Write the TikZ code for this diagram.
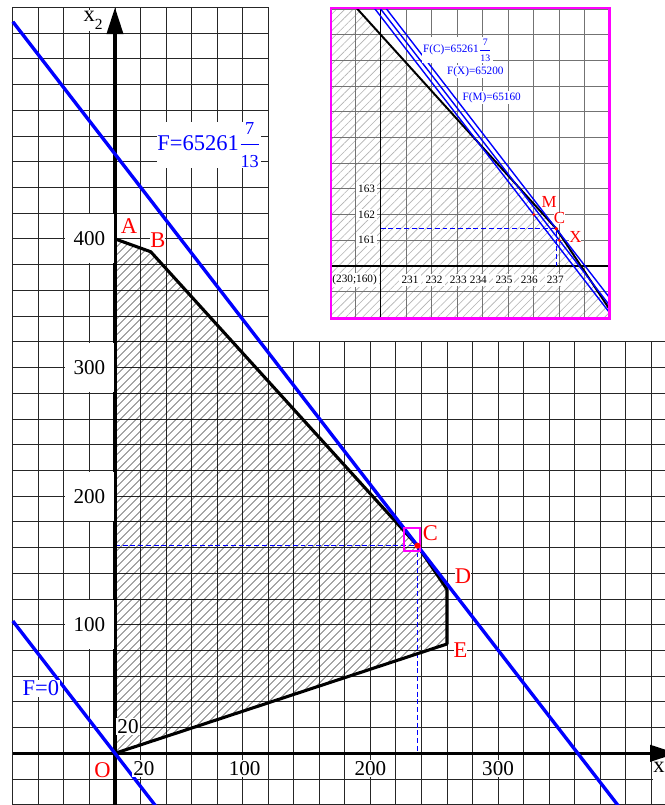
\documentclass[tikz,border=0pt]{standalone}
\usepackage{amsmath}
\usepackage{fontspec}
\setmainfont{Liberation Serif}
\usetikzlibrary{arrows.meta,patterns.meta}

\definecolor{lilac}{RGB}{255,0,255}
\definecolor{pureblue}{RGB}{0,0,255}
\definecolor{purered}{RGB}{255,0,0}

\newcommand{\mixfrac}[3]{$\genfrac{}{}{0.4pt}{0}{\hbox{\fontsize{#3}{#3}\selectfont #1}}{\hbox{\fontsize{#3}{#3}\selectfont #2}}$}
\newcommand{\lowidx}[2]{\raisebox{-0.35em}{\fontsize{#2}{#2}\selectfont #1}}

\begin{document}
\begin{tikzpicture}[x=0.031925cm, y=0.03215cm,
  gridline/.style={black!85, line width=0.6pt},
  igrid/.style={black!55, line width=0.6pt},
  iaxis/.style={black, line width=1.1pt},
  hatch/.style={pattern={Lines[angle=45,distance=4pt,line width=0.45pt]}, pattern color=black},
  ihatch/.style={pattern={Lines[angle=45,distance=4.2pt,line width=0.45pt]}, pattern color=black!30},
  border/.style={line width=2.2pt, line join=round},
  iborder/.style={line width=1.4pt},
  axisline/.style={line width=2.4pt, -{Triangle[length=19pt,width=11.5pt]}},
  fline/.style={pureblue, line width=2.4pt},
  ifline/.style={pureblue, line width=1pt},
  dashline/.style={pureblue, line width=1pt, dash pattern=on 3.5pt off 2pt},
  numlab/.style={fill=white, inner sep=1pt, font=\fontsize{15}{15}\selectfont},
  cellbox/.style={numlab, minimum width=1.22cm, minimum height=1.22cm},
  ptlab/.style={purered, fill=white, inner sep=0pt, text depth=0pt, font=\fontsize{16}{16}\selectfont},
  flab/.style={pureblue, fill=white, inner sep=0.5pt, font=\fontsize{16}{16}\selectfont},
  itick/.style={fill=white, inner sep=1.5pt, font=\fontsize{8}{8}\selectfont},
  iflab/.style={pureblue, fill=white, inner sep=1pt, font=\fontsize{8}{8}\selectfont},
  iptlab/.style={purered, fill=white, inner sep=0pt, text depth=0pt, font=\fontsize{12}{12}\selectfont}]
  \useasboundingbox (-90.05,-40.2) rectangle (430.7,585.77);
  \clip (-90.05,-40.2) rectangle (430.7,585.77);

  % grid
  \foreach \gx in {-80,-60,...,120}
    \draw[gridline] (\gx,-45) -- (\gx,580);
  \foreach \gx in {140,160,...,440}
    \draw[gridline] (\gx,-45) -- (\gx,320);
  \foreach \gy in {-40,-20,...,320}
    \draw[gridline] (-80,\gy) -- (440,\gy);
  \foreach \gy in {340,360,...,580}
    \draw[gridline] (-80,\gy) -- (120,\gy);

  % region
  \coordinate (O) at (0,0);
  \coordinate (A) at (0,400);
  \coordinate (B) at (28,390);
  \coordinate (C) at (236.88,161.45);
  \coordinate (D) at (260,127.5);
  \coordinate (E) at (260,85);
  \fill[hatch] (O) -- (A) -- (B) -- (C) -- (D) -- (E) -- cycle;
  \draw[dashline] (C -| O) -- (C) -- (C |- O);
  \draw[axisline] (0,-45) -- (0,580);
  \draw[axisline] (-80,0) -- (440,0);
  \draw[border] (O) -- (A) -- (B) -- (C) -- (D) -- (E) -- cycle;

  % level lines
  \coordinate (F0s) at (-80,102.86);
  \coordinate (F0e) at (35,-45);
  \coordinate (Fms) at (-80,568.87);
  \coordinate (Fme) at (397.45,-45);
  \draw[fline] (F0s) -- (F0e);
  \draw[fline] (Fms) -- (Fme);

  \draw[lilac, line width=1.4pt] (226,157) rectangle (239,175);
  \fill[purered] (C) circle (2.2pt);

  % labels
  \node[cellbox] (l400) at (-20,400) {400};
  \node[cellbox] (l300) at (-20,300) {300};
  \node[cellbox] (l200) at (-20,200) {200};
  \node[cellbox] (l100) at (-20,100) {100};
  \node[numlab] (ly20) at (10.2,20.5) {20};
  \node[numlab] (lx20) at (22.7,-11.5) {20};
  \node[numlab] (lx100) at (101.6,-11.5) {100};
  \node[numlab] (lx200) at (200,-11.5) {200};
  \node[numlab] (lx300) at (300,-11.5) {300};
  \node[ptlab] (lO) at (-9.8,-13) {O};
  \node[ptlab] (lA) at (11,410.3) {A};
  \node[ptlab] (lB) at (33.5,399) {B};
  \node[ptlab] (lC) at (247,171.3) {C};
  \node[ptlab] (lD) at (272.5,137.9) {D};
  \node[ptlab] (lE) at (270.5,79.9) {E};
  \node[flab] (lF0) at (-58,50.4) {F=0};
  \node[flab] (lFmax) at (73.6,473) {F=65261\mixfrac{7}{13}{13}};
  \node[numlab, font=\fontsize{16}{16}\selectfont] (lx2) at (-17.2,570.2) {x\lowidx{2}{11}};
  \node[numlab, anchor=west, inner sep=0pt, font=\fontsize{16}{16}\selectfont] (lx1) at (421.5,-14.3) {x\lowidx{1}{11}};

  % zoomed view near C
  \begin{scope}[xshift=6.6425cm, yshift=12.1825cm, x=0.638cm, y=0.6425cm]
    \fill[white] (-1.95,-2.04) rectangle (8.98,10.04);
    \coordinate (iO) at (0,0);
    \coordinate (iC) at (6.88,1.45);
    \coordinate (iM) at (6,2);
    \coordinate (iX) at (7,1);
    \coordinate (iBt) at (-1.094,10.2);
    \coordinate (iDb) at (9.313,-2.2);
    \begin{scope}
      \clip (-1.95,-2.04) rectangle (8.98,10.04);
      \fill[ihatch] (-2.2,-2.2) -- (-2.2,10.2) -- (iBt) -- (iC) -- (iDb) -- cycle;
      \foreach \gu in {-1,...,9}
        \draw[igrid] (\gu,-2.2) -- (\gu,10.2);
      \foreach \gv in {-2,...,10}
        \draw[igrid] (-2.2,\gv) -- (9.2,\gv);
      \draw[iaxis] (0,-2.2) -- (0,10.2);
      \draw[iaxis] (-2.2,0) -- (9.2,0);
      \draw[dashline, line width=0.7pt] (iC -| iO) -- (iC) -- (iC |- iO);
      \draw[iborder] (iBt) -- (iC) -- (iDb);
      \draw[ifline] (0.074,10.2) -- (9.719,-2.2);
      \draw[ifline] (-0.156,10.2) -- (9.489,-2.2);
      \draw[ifline] (-0.378,10.2) -- (9.267,-2.2);
    \end{scope}
    \fill[purered] (iM) circle (1.1pt);
    \fill[purered] (iX) circle (1.1pt);
    \fill[purered] (iC) circle (1.4pt);
    \foreach \gu/\gt in {1.15/231, 2.09/232, 3.04/233, 3.83/234, 4.83/235, 5.82/236, 6.84/237}
      \node[itick] (t\gt) at (\gu,-0.545) {\gt};
    \foreach \gv in {1,2,3}
      \node[itick] (y\gv) at (-0.55,\gv) {16\gv};
    \node[itick] (iorig) at (-1.02,-0.545) {(230;160)};
    \node[iflab] (lFC) at (3.01,8.40) {F(C)=65261\mixfrac{7}{13}{7}};
    \node[iflab] (lFX) at (3.71,7.56) {F(X)=65200};
    \node[iflab] (lFM) at (4.35,6.56) {F(M)=65160};
    \node[iptlab] (lM) at (6.6,2.5) {M};
    \node[iptlab] (liC) at (7.01,1.86) {C};
    \node[iptlab] (lX) at (7.63,1.11) {X};
    \draw[lilac, line width=2pt] (-1.95,-2.04) rectangle (8.98,10.04);
  \end{scope}
\end{tikzpicture}
\end{document}
